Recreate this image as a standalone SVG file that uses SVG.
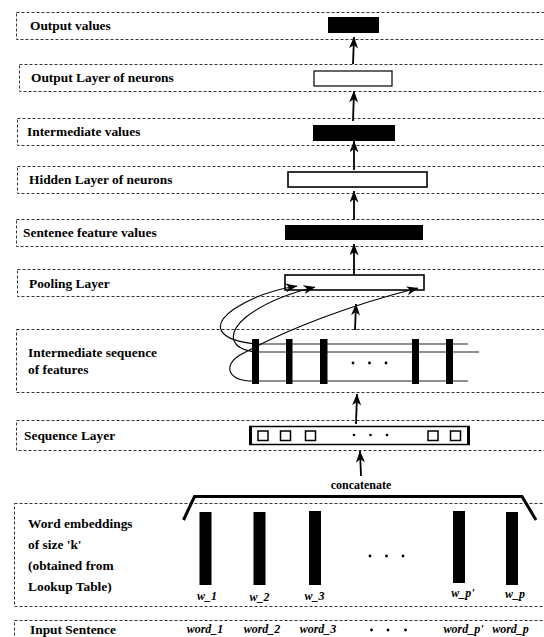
<svg xmlns="http://www.w3.org/2000/svg" width="544" height="637" viewBox="0 0 544 637">
  <style>
    .frame { fill: none; stroke: #333; stroke-width: 1; stroke-dasharray: 3 2; }
    .lbl { font-family: "Liberation Serif", "Times New Roman", serif; font-weight: bold; font-size: 13.4px; fill: #000; }
    .it { font-family: "Liberation Serif", "Times New Roman", serif; font-weight: bold; font-style: italic; font-size: 12px; fill: #000; text-anchor: middle; }
    .small { font-family: "Liberation Serif", "Times New Roman", serif; font-weight: bold; font-size: 12px; fill: #000; text-anchor: middle; }
    .solid { fill: #000; }
    .hollow { fill: #fff; stroke: #000; stroke-width: 1.6; }
    .arrow { fill: none; stroke: #000; stroke-width: 1.8; marker-end: url(#ah); }
    .curve { fill: none; stroke: #000; stroke-width: 1.1; marker-end: url(#ah); }
    .track { fill: none; stroke: #222; stroke-width: 1.1; }
  </style>
  <defs>
    <marker id="ah" viewBox="0 0 12 9" refX="11.5" refY="4.5" markerWidth="12" markerHeight="9" orient="auto" markerUnits="userSpaceOnUse">
      <path d="M0,0 L12,4.5 L0,9 L3.5,4.5 z" fill="#000"/>
    </marker>
  </defs>
  <rect width="544" height="637" fill="#fff"/>

  <!-- Output values -->
  <g id="output-values">
    <rect class="frame" x="16.5" y="12.5" width="560" height="27"/>
    <text class="lbl" x="30" y="30">Output values</text>
    <rect class="solid" x="328" y="17" width="51" height="16"/>
  </g>

  <!-- Output layer of neurons -->
  <g id="output-layer">
    <rect class="frame" x="19.5" y="64.5" width="560" height="27"/>
    <text class="lbl" x="31" y="82">Output Layer of neurons</text>
    <rect class="hollow" x="314" y="71" width="78" height="15" style="stroke-width:1.2"/>
  </g>

  <!-- Intermediate values -->
  <g id="intermediate-values">
    <rect class="frame" x="17.5" y="118.5" width="560" height="27"/>
    <text class="lbl" x="27" y="136">Intermediate values</text>
    <rect class="solid" x="313" y="125" width="82" height="16"/>
  </g>

  <!-- Hidden layer of neurons -->
  <g id="hidden-layer">
    <rect class="frame" x="17.5" y="166.5" width="560" height="27"/>
    <text class="lbl" x="29" y="184">Hidden Layer of neurons</text>
    <rect class="hollow" x="288" y="172" width="139" height="15"/>
  </g>

  <!-- Sentence feature values -->
  <g id="sentence-features">
    <rect class="frame" x="16.5" y="219.5" width="560" height="27"/>
    <text class="lbl" x="23" y="237">Sentenee feature values</text>
    <rect class="solid" x="285" y="225" width="138" height="15"/>
  </g>

  <!-- Pooling layer -->
  <g id="pooling-layer">
    <rect class="frame" x="17.5" y="269.5" width="560" height="27"/>
    <text class="lbl" x="29" y="288">Pooling Layer</text>
    <rect class="hollow" x="285" y="275" width="139" height="15"/>
  </g>

  <!-- Intermediate sequence of features -->
  <g id="feature-sequence">
    <rect class="frame" x="16.5" y="329.5" width="560" height="63"/>
    <text class="lbl" x="28" y="357">Intermediate sequence</text>
    <text class="lbl" x="28" y="374">of features</text>
    <line class="track" x1="253" y1="344" x2="468" y2="344"/>
    <line class="track" x1="253" y1="352" x2="479" y2="352"/>
    <line class="track" x1="253" y1="381" x2="468" y2="381"/>
    <rect class="solid" x="252" y="339" width="7" height="45"/>
    <rect class="solid" x="286" y="339" width="6.5" height="45"/>
    <rect class="solid" x="320" y="339" width="7.5" height="45"/>
    <rect class="solid" x="412" y="339" width="7" height="45"/>
    <rect class="solid" x="446" y="339" width="7" height="45"/>
    <circle cx="353" cy="363" r="1.4"/>
    <circle cx="369.5" cy="363" r="1.4"/>
    <circle cx="386" cy="363" r="1.4"/>
  </g>

  <!-- Sequence layer -->
  <g id="sequence-layer">
    <rect class="frame" x="16.5" y="420.5" width="560" height="30"/>
    <text class="lbl" x="24" y="440">Sequence Layer</text>
    <rect x="250" y="426.5" width="219" height="18" fill="#fff" stroke="#000" stroke-width="1.5"/>
    <line x1="250.5" y1="426" x2="250.5" y2="445" stroke="#000" stroke-width="3"/>
    <line x1="468.5" y1="426" x2="468.5" y2="445" stroke="#000" stroke-width="3"/>
    <g fill="none" stroke="#000" stroke-width="1.5">
      <rect x="258" y="431" width="10" height="9.5"/>
      <rect x="280.5" y="431" width="10" height="9.5"/>
      <rect x="305.5" y="431" width="10" height="9.5"/>
      <rect x="428" y="431" width="10" height="9.5"/>
      <rect x="450.5" y="431" width="10" height="9.5"/>
    </g>
    <circle cx="354" cy="435" r="1.3"/>
    <circle cx="370.5" cy="435" r="1.3"/>
    <circle cx="387" cy="435" r="1.3"/>
  </g>

  <!-- Word embeddings -->
  <g id="word-embeddings">
    <rect class="frame" x="14.5" y="503.5" width="560" height="103"/>
    <text class="lbl" x="28" y="528">Word embeddings</text>
    <text class="lbl" x="28" y="549">of size 'k'</text>
    <text class="lbl" x="28" y="570">(obtained from</text>
    <text class="lbl" x="28" y="591">Lookup Table)</text>
    <rect class="solid" x="199.5" y="512" width="12" height="73"/>
    <rect class="solid" x="253.5" y="512" width="12" height="73"/>
    <rect class="solid" x="309" y="511" width="12" height="74"/>
    <rect class="solid" x="453" y="511" width="12" height="72"/>
    <rect class="solid" x="506" y="512" width="12" height="73"/>
    <circle cx="370" cy="556" r="1.4"/>
    <circle cx="386.5" cy="556" r="1.4"/>
    <circle cx="403" cy="556" r="1.4"/>
    <text class="it" x="207" y="600">w_1</text>
    <text class="it" x="259.5" y="601">w_2</text>
    <text class="it" x="314.5" y="600">w_3</text>
    <text class="it" x="463" y="597">w_p'</text>
    <text class="it" x="515" y="598">w_p</text>
  </g>

  <!-- Input sentence -->
  <g id="input-sentence">
    <rect class="frame" x="14.5" y="620.5" width="560" height="40"/>
    <text class="lbl" x="30" y="634">Input Sentence</text>
    <text class="it" x="205" y="633">word_1</text>
    <text class="it" x="262" y="633">word_2</text>
    <text class="it" x="318" y="633">word_3</text>
    <circle cx="371.5" cy="630" r="1.4"/>
    <circle cx="388" cy="630" r="1.4"/>
    <circle cx="405.5" cy="630" r="1.4"/>
    <text class="it" x="463.5" y="633">word_p'</text>
    <text class="it" x="510.5" y="633">word_p</text>
  </g>

  <!-- concatenation bracket -->
  <g id="concatenate">
    <path d="M183.5,520 L194.5,496.5 L522,496.5 L536,520" fill="none" stroke="#000" stroke-width="3"/>
    <text class="small" x="361" y="489">concatenate</text>
  </g>

  <!-- connectors -->
  <g id="connectors">
    <line class="arrow" x1="353" y1="64" x2="354" y2="37"/>
    <line class="arrow" x1="353" y1="121" x2="354" y2="91"/>
    <line class="arrow" x1="354" y1="170" x2="354" y2="141"/>
    <line class="arrow" x1="354" y1="220" x2="354" y2="191"/>
    <line class="arrow" x1="354" y1="275" x2="354" y2="244"/>
    <line class="arrow" x1="355" y1="330" x2="356" y2="304"/>
    <line class="arrow" x1="356" y1="424" x2="357" y2="394"/>
    <line class="arrow" x1="361" y1="476" x2="360" y2="451"/>
    <!-- pooling feeds -->
    <path class="curve" d="M256,344 C218,340 210,326 234,309 C252,297 272,290 297,286"/>
    <path class="curve" d="M256,352 C230,349 226,334 246,317 C264,303 290,293 315,287"/>
    <path class="curve" d="M256,381 C228,382 222,366 240,355 C285,330 350,305 418,288"/>
  </g>
</svg>
